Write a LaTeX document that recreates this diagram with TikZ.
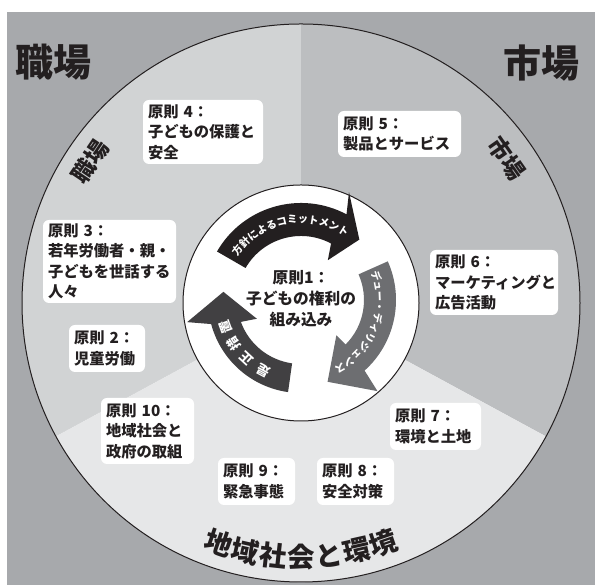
\documentclass[tikz,border=0pt]{standalone}
\usepackage{fontspec}
\setmainfont{Noto Sans CJK JP}
\usetikzlibrary{decorations.text}
\definecolor{bggray}{HTML}{A7A9AC}
\definecolor{secA}{HTML}{D1D3D4}
\definecolor{secB}{HTML}{BCBEC0}
\definecolor{secC}{HTML}{E6E7E8}
\definecolor{ink}{HTML}{231F20}
\definecolor{arrA}{HTML}{231F20}
\definecolor{arrB}{HTML}{6D6E71}
\definecolor{arrC}{HTML}{414042}
\newcommand\boxfont{\fontsize{15.3}{20.5}\selectfont\bfseries}
\newcommand\arrfont{\fontsize{10.2}{10.2}\selectfont\bfseries\color{white}}
\begin{document}
\begin{tikzpicture}[x=1pt,y=1pt,line join=round]
\tikzset{
  pbox/.style={fill=white, rounded corners=6pt, align=left, font=\boxfont, text=ink, inner xsep=5pt, inner ysep=0pt},
  corner/.style={font=\fontsize{38}{38}\selectfont\bfseries, text=ink, inner sep=0pt},
  ringlab/.style={font=\fontsize{23}{23}\selectfont\bfseries, text=ink, inner sep=0pt},
  bottomlab/.style={font=\fontsize{27.5}{27.5}\selectfont\bfseries, text=ink, inner sep=0pt},
  arrtext/.style={decorate, decoration={text along path, text align=center, raise=0pt}}
}
\useasboundingbox (0,0) rectangle (595,585);
\fill[bggray] (7,0) rectangle (595,573);
\coordinate (O) at (301,282);
\coordinate (C2) at (301,285);
% sectors
\fill[secA] (O) -- ([shift={(O)}]90:279) arc[start angle=90,end angle=208.5,radius=279] -- cycle;
\fill[secC] (O) -- ([shift={(O)}]208.5:279) arc[start angle=208.5,end angle=331.5,radius=279] -- cycle;
\fill[secB] (O) -- ([shift={(O)}]-28.5:279) arc[start angle=-28.5,end angle=90,radius=279] -- cycle;
\draw[ink, line width=1pt] (O) circle[radius=279];
% corner labels
\node[corner] (cw) at (53.5,522.5) {職場};
\node[corner] (cm) at (541,521.5) {市場};
% ring labels
\node[ringlab, rotate=56] (rw) at (90,423) {職場};
\node[ringlab, rotate=-55] (rm) at (507,427) {市場};
\foreach \ch [count=\i] in {地,域,社,会,と,環,境} {
  \pgfmathsetmacro\ang{270+(\i-4)*6.3}
  \node[bottomlab, rotate=\ang-270] (b\i) at ([shift={(O)}]\ang:254) {\ch};
}
% principle boxes
\node[pbox, text width=110pt, minimum height=64pt] (p4) at (203,453) {原則 4：\\子どもの保護と\\安全};
\node[pbox, text width=123pt, minimum height=83pt] (p3) at (109.5,323.5) {原則 3：\\若年労働者・親・\\子どもを世話する\\人々};
\node[pbox, text width=113pt, minimum height=46pt] (p5) at (399.5,451) {原則 5：\\製品とサービス};
\node[pbox, text width=118pt, minimum height=65pt] (p6) at (494,302.5) {原則 6：\\マーケティングと\\広告活動};
\node[pbox, text width=66pt, minimum height=47pt] (p2) at (107,236.5) {原則 2：\\児童労働};
\node[pbox, text width=83pt, minimum height=66pt] (p10) at (147.5,154) {原則 10：\\地域社会と\\政府の取組};
\node[pbox, text width=67pt, minimum height=47pt] (p9) at (256.5,103.5) {原則 9：\\緊急事態};
\node[pbox, text width=81pt, minimum height=47pt] (p7) at (435.5,158.5) {原則 7：\\環境と土地};
\node[pbox, text width=67pt, minimum height=47pt] (p8) at (355.5,103.5) {原則 8：\\安全対策};
% inner circle
\draw[ink, line width=1pt, fill=white] (O) circle[radius=118];
% arrows
\fill[arrA] ([shift={(C2)}]150:97) arc[start angle=150,end angle=62,radius=97] -- ([shift={(C2)}]66:118) -- ([shift={(C2)}]46:84) -- ([shift={(C2)}]56:48) -- ([shift={(C2)}]62:64) arc[start angle=62,end angle=150,radius=64] -- cycle;
\fill[arrB] ([shift={(C2)}]24:95) arc[start angle=24,end angle=-48,radius=95] -- ([shift={(C2)}]-50:119) -- ([shift={(C2)}]-72:86) -- ([shift={(C2)}]-45:50) -- ([shift={(C2)}]-45:63) arc[start angle=-45,end angle=24,radius=63] -- cycle;
\fill[arrC] ([shift={(C2)}]262:93) arc[start angle=262,end angle=195,radius=93] -- ([shift={(C2)}]191:116) -- ([shift={(C2)}]174:78) -- ([shift={(C2)}]203:48) -- ([shift={(C2)}]200:64) arc[start angle=200,end angle=262,radius=64] -- cycle;
% arrow texts
\path[arrtext, decoration={text={|\arrfont|方針によるコミットメント}}] ([shift={(C2)}]150:77) arc[start angle=150,end angle=50,radius=77];
\path[arrtext, decoration={text={|\arrfont|デュー・ディリジェンス}}] ([shift={(C2)}]30:75) arc[start angle=30,end angle=-72,radius=75];
\foreach \ch/\a [count=\i] in {是/242,正/227,措/213,置/200} {
  \node[font=\fontsize{13}{13}\selectfont\bfseries, text=white, inner sep=0pt, rotate=\a-90] (d\i) at ([shift={(C2)}]\a:80) {\ch};
}
% centre text
\node[align=center, font=\fontsize{15.7}{21}\selectfont\bfseries, text=ink] (c1) at (301,286) {原則1：\\子どもの権利の\\組み込み};
\end{tikzpicture}
\end{document}
